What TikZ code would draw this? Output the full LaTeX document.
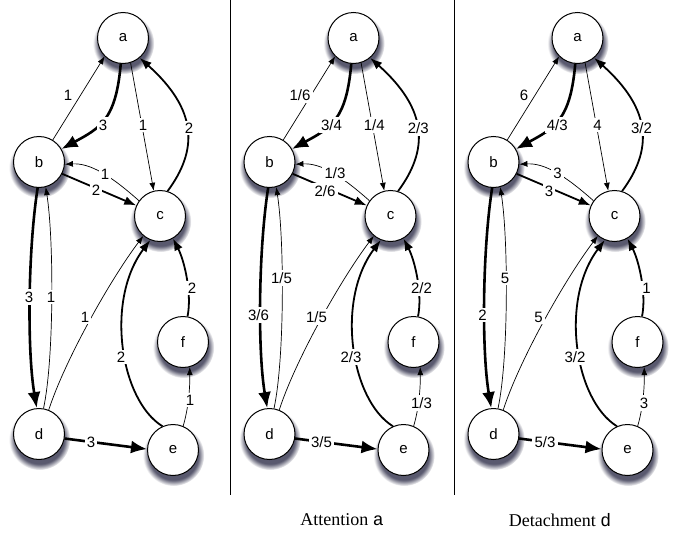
\documentclass[tikz,border=0pt]{standalone}
\usepackage{fontspec}
\setmainfont{Liberation Sans}
\newfontfamily\capserif{Liberation Serif}
\setmonofont{Liberation Mono}
\usetikzlibrary{arrows.meta,shadows,fadings}
\definecolor{shadowcol}{RGB}{60,60,85}

\tikzset{
 vtx/.style={circle, draw, line width=1pt, fill=white, minimum size=51pt, inner sep=0pt,
   font=\fontsize{15}{15}\selectfont,
   general shadow={shadow scale=1.2, shadow xshift=0.5pt, shadow yshift=-4.5pt, opacity=0.85,
     fill=shadowcol, path fading={circle with fuzzy edge 20 percent}}},
 lab/.style={fill=white, inner sep=2.2pt, font=\fontsize{15}{15}\selectfont},
 w1/.style={line width=0.7pt, -{Latex[length=8pt,width=6pt]}},
 w2/.style={line width=1.8pt, -{Latex[length=12pt,width=9pt]}},
 w3/.style={line width=2.6pt, -{Latex[length=16pt,width=13pt]}},
 sepline/.style={line width=1pt},
 caption/.style={font=\capserif\fontsize{18}{18}\selectfont},
}

\newcommand\graphpanel[1]{%
 \node[vtx] (a#1) at (123,38) {a};
 \node[vtx] (b#1) at (39,162) {b};
 \node[vtx] (c#1) at (160,216) {c};
 \node[vtx] (d#1) at (39,434) {d};
 \node[vtx] (e#1) at (173,450) {e};
 \node[vtx] (f#1) at (183,342) {f};
 \draw[w1] (b#1.58) -- (a#1.225);
 \draw[w3] (a#1.265) .. controls (116,120) and (100,128) .. (b#1.30);
 \draw[w1] (a#1.-73) -- (c#1.104);
 \draw[w2] (c#1.73) .. controls (198,150) and (198,110) .. (a#1.-50);
 \draw[w1] (c#1.144) .. controls (110,175) and (90,163) .. (b#1.-5);
 \draw[w2] (b#1.-27) -- (c#1.156);
 \draw[w3] (b#1.-93) .. controls (28,250) and (27,350) .. (d#1.95);
 \draw[w1] (d#1.80) .. controls (54,360) and (54,240) .. (b#1.-75);
 \draw[w1] (d#1.68) .. controls (65,360) and (110,280) .. (c#1.-130);
 \draw[w2] (e#1.114) .. controls (120,400) and (105,300) .. (c#1.-112);
 \draw[w2] (f#1.80) .. controls (192,295) and (185,262) .. (c#1.-60);
 \draw[w1] (e#1.67) .. controls (188,410) and (190,390) .. (f#1.-75);
 \draw[w3] (d#1.-10) -- (e#1.178);
}

\begin{document}
\begin{tikzpicture}[x=1pt,y=-1pt]
\useasboundingbox (0,0) rectangle (673,533);

% panel 1
\begin{scope}
 \graphpanel{1}
 \node[lab] (l1ba) at (68,95) {1};
 \node[lab] (l1ab) at (103,125) {3};
 \node[lab] (l1ac) at (143,125) {1};
 \node[lab] (l1ca) at (189,128) {2};
 \node[lab] (l1cb) at (105,174) {1};
 \node[lab] (l1bc) at (96,190) {2};
 \node[lab] (l1bd) at (29,297) {3};
 \node[lab] (l1db) at (51,297) {1};
 \node[lab] (l1dc) at (85,317) {1};
 \node[lab] (l1ec) at (121,357) {2};
 \node[lab] (l1fc) at (192,288) {2};
 \node[lab] (l1ef) at (190,400) {1};
 \node[lab] (l1de) at (91,442) {3};
\end{scope}

\draw[sepline] (230,0) -- (230,495);

% panel 2
\begin{scope}[xshift=230.5pt]
 \graphpanel{2}
 \node[lab] (l2ba) at (69.5,95) {1/6};
 \node[lab] (l2ab) at (101,125) {3/4};
 \node[lab] (l2ac) at (143.8,125) {1/4};
 \node[lab] (l2ca) at (187.8,128) {2/3};
 \node[lab] (l2cb) at (104.5,173) {1/3};
 \node[lab] (l2bc) at (94.5,191) {2/6};
 \node[lab] (l2bd) at (28,315) {3/6};
 \node[lab] (l2db) at (51,278) {1/5};
 \node[lab] (l2dc) at (86,317) {1/5};
 \node[lab] (l2ec) at (120.5,357) {2/3};
 \node[lab] (l2fc) at (191,288) {2/2};
 \node[lab] (l2ef) at (191,403) {1/3};
 \node[lab] (l2de) at (91,442) {3/5};
\end{scope}

\draw[sepline] (454,0) -- (454,495);

% panel 3
\begin{scope}[xshift=454.5pt]
 \graphpanel{3}
 \node[lab] (l3ba) at (69.5,95) {6};
 \node[lab] (l3ab) at (102.8,125) {4/3};
 \node[lab] (l3ac) at (143,125) {4};
 \node[lab] (l3ca) at (187,128) {3/2};
 \node[lab] (l3cb) at (103,173) {3};
 \node[lab] (l3bc) at (94.5,191) {3};
 \node[lab] (l3bd) at (28,315) {2};
 \node[lab] (l3db) at (50.5,278) {5};
 \node[lab] (l3dc) at (84,317) {5};
 \node[lab] (l3ec) at (120.5,357) {3/2};
 \node[lab] (l3fc) at (192,288) {1};
 \node[lab] (l3ef) at (189.5,403) {3};
 \node[lab] (l3de) at (90.5,442) {5/3};
\end{scope}

\node[caption] (cap2) at (342,520) {Attention \texttt{a}};
\node[caption] (cap3) at (560,520) {Detachment \texttt{d}};
\end{tikzpicture}
\end{document}
